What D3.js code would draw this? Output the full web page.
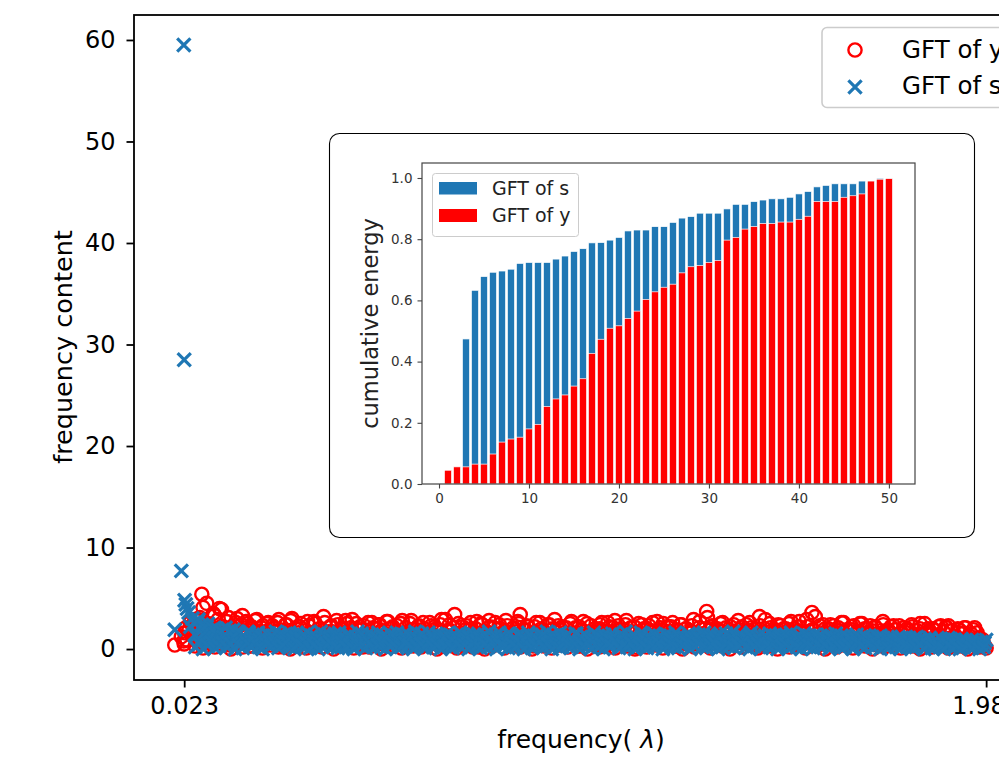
<!DOCTYPE html>
<html>
<head>
<meta charset="utf-8">
<script src="https://cdn.jsdelivr.net/npm/d3@7"></script>
<style>
  body { margin: 0; background: #fff; }
  text { font-family: "DejaVu Sans", sans-serif; }
</style>
</head>
<body>
<div id="container"></div>
<script>
// graph frequencies (eigenvalues) and the GFT magnitudes of y and s at each one
let lambdas = [
  0, 0.016, 0.022, 0.023, 0.024, 0.027, 0.03, 0.034, 0.038, 0.043,
  0.049, 0.055, 0.061, 0.066, 0.071, 0.078, 0.084, 0.09, 0.097, 0.103,
  0.109, 0.114, 0.121, 0.127, 0.134, 0.139, 0.146, 0.152, 0.158, 0.165,
  0.171, 0.178, 0.183, 0.19, 0.196, 0.203, 0.209, 0.215, 0.222, 0.228,
  0.235, 0.241, 0.247, 0.254, 0.26, 0.266, 0.273, 0.279, 0.286, 0.292,
  0.298, 0.305, 0.311, 0.318, 0.324, 0.33, 0.337, 0.343, 0.35, 0.356,
  0.363, 0.369, 0.375, 0.382, 0.388, 0.395, 0.401, 0.407, 0.414, 0.42,
  0.427, 0.433, 0.44, 0.446, 0.452, 0.459, 0.465, 0.472, 0.478, 0.484,
  0.491, 0.497, 0.504, 0.51, 0.517, 0.523, 0.529, 0.536, 0.542, 0.549,
  0.555, 0.561, 0.568, 0.574, 0.581, 0.587, 0.593, 0.6, 0.606, 0.613,
  0.619, 0.626, 0.632, 0.638, 0.645, 0.651, 0.658, 0.664, 0.67, 0.677,
  0.683, 0.69, 0.696, 0.702, 0.709, 0.715, 0.722, 0.728, 0.734, 0.741,
  0.747, 0.754, 0.76, 0.767, 0.773, 0.779, 0.786, 0.792, 0.799, 0.805,
  0.811, 0.818, 0.824, 0.831, 0.837, 0.843, 0.85, 0.856, 0.863, 0.869,
  0.875, 0.882, 0.888, 0.895, 0.901, 0.908, 0.914, 0.92, 0.927, 0.933,
  0.94, 0.946, 0.952, 0.959, 0.965, 0.972, 0.978, 0.984, 0.991, 0.997,
  1.004, 1.01, 1.016, 1.023, 1.029, 1.036, 1.042, 1.048, 1.055, 1.061,
  1.068, 1.074, 1.08, 1.087, 1.093, 1.1, 1.106, 1.113, 1.119, 1.125,
  1.132, 1.138, 1.145, 1.151, 1.157, 1.164, 1.17, 1.177, 1.183, 1.189,
  1.196, 1.202, 1.209, 1.215, 1.222, 1.228, 1.234, 1.241, 1.247, 1.254,
  1.26, 1.266, 1.273, 1.279, 1.286, 1.292, 1.298, 1.305, 1.311, 1.318,
  1.324, 1.331, 1.337, 1.343, 1.35, 1.356, 1.363, 1.369, 1.375, 1.382,
  1.388, 1.395, 1.401, 1.407, 1.414, 1.42, 1.427, 1.433, 1.44, 1.446,
  1.452, 1.459, 1.465, 1.472, 1.478, 1.484, 1.491, 1.497, 1.504, 1.51,
  1.516, 1.523, 1.529, 1.536, 1.542, 1.549, 1.555, 1.561, 1.568, 1.574,
  1.581, 1.587, 1.593, 1.6, 1.606, 1.613, 1.619, 1.625, 1.632, 1.638,
  1.645, 1.651, 1.657, 1.664, 1.67, 1.677, 1.683, 1.689, 1.696, 1.702,
  1.709, 1.715, 1.722, 1.728, 1.734, 1.741, 1.747, 1.754, 1.76, 1.766,
  1.773, 1.779, 1.786, 1.792, 1.798, 1.805, 1.811, 1.818, 1.824, 1.83,
  1.837, 1.843, 1.85, 1.856, 1.863, 1.869, 1.875, 1.882, 1.888, 1.895,
  1.901, 1.907, 1.914, 1.92, 1.927, 1.933, 1.939, 1.946, 1.952, 1.958,
  1.963, 1.968, 1.972, 1.976, 1.98,
  0.047, 0.052, 0.058, 0.063, 0.069, 0.075, 0.081, 0.087, 0.094, 0.1,
  0.106, 0.112, 0.118, 0.124, 0.131, 0.137, 0.143, 0.149, 0.155, 0.162,
  0.168, 0.174, 0.181, 0.187, 0.193, 0.2, 0.206, 0.212, 0.219, 0.225,
  0.232, 0.238, 0.244, 0.251, 0.257, 0.263, 0.27, 0.276, 0.283, 0.289,
  0.295, 0.302, 0.308, 0.315, 0.321, 0.327, 0.334, 0.34, 0.347, 0.353,
  0.359, 0.366, 0.372, 0.379, 0.385, 0.391, 0.398, 0.404, 0.411, 0.417,
  0.424, 0.43, 0.436, 0.443, 0.449, 0.456, 0.462, 0.468, 0.475, 0.481,
  0.488, 0.494, 0.5, 0.507, 0.513, 0.52, 0.526, 0.532, 0.539, 0.545,
  0.552, 0.558, 0.564, 0.571, 0.577, 0.584, 0.59, 0.596, 0.603, 0.609,
  0.616, 0.622, 0.628, 0.635, 0.641, 0.648, 0.654, 0.66, 0.667, 0.673,
  0.68, 0.686, 0.692, 0.699, 0.705, 0.712, 0.718, 0.724, 0.731, 0.737,
  0.744, 0.75, 0.756, 0.763, 0.769, 0.776, 0.782, 0.788, 0.795, 0.801,
  0.808, 0.814, 0.82, 0.827, 0.833, 0.84, 0.846, 0.852, 0.859, 0.865,
  0.872, 0.878, 0.884, 0.891, 0.897, 0.904, 0.91, 0.916, 0.923, 0.929,
  0.936, 0.942, 0.948, 0.955, 0.961, 0.968, 0.974, 0.98, 0.987, 0.993,
  1.0, 1.006, 1.012, 1.019, 1.025, 1.032, 1.038, 1.044, 1.051, 1.057,
  1.064, 1.07, 1.076, 1.083, 1.089, 1.096, 1.102, 1.108, 1.115, 1.121,
  1.128, 1.134, 1.14, 1.147, 1.153, 1.16, 1.166, 1.172, 1.179, 1.185,
  1.192, 1.198, 1.204, 1.211, 1.217, 1.224, 1.23, 1.236, 1.243, 1.249,
  1.256, 1.262, 1.268, 1.275, 1.281, 1.288, 1.294, 1.3, 1.307, 1.313,
  1.32, 1.326, 1.332, 1.339, 1.345, 1.352, 1.358, 1.364, 1.371, 1.377,
  1.384, 1.39, 1.396, 1.403, 1.409, 1.416, 1.422, 1.428, 1.435, 1.441,
  1.448, 1.454, 1.46, 1.467, 1.473, 1.48, 1.486, 1.492, 1.499, 1.505,
  1.512, 1.518, 1.524, 1.531, 1.537, 1.544, 1.55, 1.556, 1.563, 1.569,
  1.576, 1.582, 1.588, 1.595, 1.601, 1.608, 1.614, 1.62, 1.627, 1.633,
  1.64, 1.646, 1.652, 1.659, 1.665, 1.672, 1.678, 1.684, 1.691, 1.697,
  1.704, 1.71, 1.716, 1.723, 1.729, 1.736, 1.742, 1.748, 1.755, 1.761,
  1.768, 1.774, 1.78, 1.787, 1.793, 1.8, 1.806, 1.812, 1.819, 1.825,
  1.832, 1.838, 1.844, 1.851, 1.857, 1.864, 1.87, 1.876, 1.883, 1.889,
  1.896, 1.904, 1.911, 1.917, 1.924, 1.93, 1.936, 1.943, 1.949, 1.955,
  0.05, 0.06, 0.069, 0.079, 0.089, 0.098, 0.108, 0.118, 0.127, 0.137,
  0.147, 0.156, 0.166, 0.176, 0.185, 0.195, 0.205, 0.214, 0.224, 0.234,
  0.243, 0.253, 0.263, 0.272, 0.282, 0.292, 0.301, 0.311, 0.321, 0.33,
  0.34, 0.35, 0.359, 0.369, 0.379, 0.388, 0.398, 0.408, 0.417, 0.427,
  0.437, 0.446, 0.456, 0.466, 0.475, 0.485, 0.495, 0.504, 0.514, 0.524,
  0.533, 0.543, 0.553, 0.562, 0.572, 0.582, 0.591, 0.601, 0.611, 0.62,
  0.63, 0.64, 0.649, 0.659, 0.669, 0.678, 0.688, 0.698, 0.707, 0.717,
  0.727, 0.736, 0.746, 0.756, 0.765, 0.775, 0.785, 0.794, 0.804, 0.814,
  0.823, 0.833, 0.843, 0.852, 0.862, 0.872, 0.881, 0.891, 0.901, 0.91,
  0.92, 0.93, 0.939, 0.949, 0.959, 0.968, 0.978, 0.988, 0.997, 1.007,
  1.017, 1.026, 1.036, 1.046, 1.055, 1.065, 1.075, 1.084, 1.094, 1.104,
  1.113, 1.123, 1.133, 1.142, 1.152, 1.162, 1.171, 1.181, 1.191, 1.2,
  1.21, 1.22, 1.229, 1.239, 1.249, 1.258, 1.268, 1.278, 1.287, 1.297,
  1.307, 1.316, 1.326, 1.336, 1.345, 1.355, 1.365, 1.374, 1.384, 1.394,
  1.403, 1.413, 1.423, 1.432, 1.442, 1.452, 1.461, 1.471, 1.481, 1.49,
  1.5, 1.51, 1.519, 1.529, 1.539, 1.548, 1.558, 1.568, 1.577, 1.587,
  1.597, 1.606, 1.616, 1.626, 1.635, 1.645, 1.655, 1.664, 1.674, 1.684,
  1.693, 1.703, 1.713, 1.722, 1.732, 1.742, 1.751, 1.761, 1.771, 1.78,
  1.79, 1.8, 1.809, 1.819, 1.829, 1.838, 1.848, 1.858, 1.867, 1.877,
  1.887, 1.896, 1.906, 1.916, 1.925, 1.935, 1.945, 1.954, 1.964, 1.974
];

let gftY = [
  0.4, 1.2, 0.8, 0.5, 1.6, 2.1, 0.9, 1.8, 2.6, 1.3,
  2.9, 0.7, 3.1, 5.4, 1.9, 4.5, 2.4, 0.6, 3.3, 1.5,
  4.0, 3.9, 1.1, 2.7, 0.4, 2.2, 1.7, 3.0, 0.9, 3.3,
  1.4, 2.5, 0.3, 2.0, 2.8, 1.0, 1.6, 2.3, 0.5, 2.6,
  1.2, 2.1, 0.8, 2.9, 1.5, 0.2, 2.4, 1.8, 3.0, 0.7,
  1.9, 2.2, 0.6, 1.3, 2.7, 1.0, 0.3, 2.5, 1.6, 2.0,
  3.2, 0.9, 1.7, 2.3, 0.4, 2.8, 1.1, 2.0, 0.6, 2.5,
  1.4, 2.9, 0.8, 1.9, 2.2, 0.2, 1.5, 2.6, 1.0, 2.1,
  0.5, 2.4, 1.8, 0.9, 2.7, 1.3, 2.0, 0.3, 2.3, 1.6,
  2.8, 0.7, 1.2, 2.5, 1.9, 0.4, 2.2, 1.4, 2.6, 0.9,
  1.7, 2.3, 0.6, 2.0, 1.1, 2.9, 0.3, 1.8, 2.4, 1.0,
  3.4, 1.5, 0.5, 2.2, 1.9, 0.8, 2.6, 1.3, 2.0, 0.2,
  2.5, 1.0, 1.7, 2.8, 0.6, 2.1, 1.4, 2.4, 0.9, 1.8,
  2.3, 0.4, 2.0, 1.2, 2.7, 3.4, 0.7, 1.9, 2.2, 1.5,
  0.3, 2.6, 1.1, 2.0, 1.7, 0.8, 2.4, 1.4, 2.9, 0.5,
  1.9, 2.2, 1.0, 0.6, 2.5, 1.6, 2.1, 0.3, 1.8, 2.7,
  1.3, 0.9, 2.3, 1.7, 0.4, 2.0, 2.6, 1.1, 1.5, 2.2,
  0.7, 2.8, 1.4, 1.9, 0.5, 2.4, 1.0, 2.1, 1.6, 0.2,
  2.5, 1.2, 2.0, 0.8, 2.3, 1.7, 0.6, 2.7, 1.3, 1.9,
  0.9, 2.2, 1.5, 2.6, 0.3, 1.8, 2.4, 1.1, 2.0, 0.7,
  1.6, 2.9, 0.5, 2.1, 1.4, 1.0, 3.7, 1.9, 2.3, 0.8,
  2.0, 1.2, 2.6, 0.4, 1.7, 2.2, 1.3, 0.9, 2.8, 1.5,
  0.6, 2.4, 1.8, 2.1, 1.0, 0.3, 3.2, 1.6, 2.0, 1.1,
  2.5, 0.7, 1.9, 1.4, 2.3, 0.5, 2.0, 1.2, 2.7, 0.9,
  1.7, 2.2, 0.4, 1.5, 2.9, 1.0, 3.6, 1.8, 0.6, 2.3,
  1.3, 2.0, 0.8, 2.4, 1.6, 0.3, 2.1, 1.1, 2.6, 1.4,
  0.5, 1.9, 2.3, 0.9, 1.7, 2.5, 0.6, 2.0, 1.2, 1.8,
  2.2, 0.4, 1.5, 2.7, 1.0, 1.9, 0.7, 2.3, 1.4, 0.8,
  1.6, 2.1, 0.3, 1.8, 2.4, 1.1, 0.6, 2.0, 1.3, 2.5,
  0.9, 1.7, 2.0, 0.5, 1.4, 2.3, 1.0, 2.2, 2.3, 1.8,
  1.2, 0.4, 1.9, 1.5, 2.1, 0.8, 1.3, 0.6, 2.1, 1.6,
  1.1, 0.5, 0.9, 0.3, 0.1,
  2.3, 1.1, 2.8, 0.7, 4.1, 1.9, 2.5, 0.9, 3.5, 1.6,
  2.9, 1.3, 2.2, 0.6, 3.1, 2.0, 1.4, 2.6, 0.8, 2.4,
  1.8, 2.7, 1.0, 2.2, 1.5, 2.9, 0.5, 2.1, 1.7, 2.5,
  1.2, 2.3, 0.7, 2.6, 1.9, 1.0, 2.4, 1.4, 2.8, 0.6,
  2.1, 1.6, 2.5, 0.9, 1.8, 2.3, 1.2, 2.7, 0.4, 2.0,
  1.5, 2.6, 1.0, 2.2, 1.7, 0.6, 2.4, 1.3, 2.0, 2.8,
  0.8, 2.1, 1.6, 2.5, 1.1, 1.9, 2.3, 0.5, 1.7, 2.6,
  1.3, 2.0, 2.4, 0.9, 1.8, 2.7, 1.2, 2.2, 0.7, 1.6,
  2.5, 1.0, 2.1, 1.5, 2.8, 0.6, 1.9, 2.3, 1.1, 2.0,
  1.4, 2.6, 0.8, 2.2, 1.7, 2.4, 1.0, 2.9, 1.3, 1.8,
  2.1, 0.5, 2.5, 1.6, 1.2, 2.3, 0.9, 2.0, 1.5, 2.7,
  1.1, 2.4, 1.8, 0.7, 2.2, 1.4, 2.6, 1.0, 2.0, 1.6,
  2.8, 1.3, 0.6, 2.1, 1.7, 2.5, 1.2, 1.9, 2.3, 0.8,
  1.5, 2.2, 1.0, 2.6, 1.8, 0.5, 2.4, 1.3, 2.0, 1.7,
  2.3, 0.9, 1.6, 2.1, 1.2, 2.7, 1.4, 0.7, 2.2, 1.9,
  1.0, 2.5, 1.7, 1.3, 2.0, 0.6, 2.4, 1.8, 1.1, 2.6,
  1.6, 2.1, 0.8, 2.3, 1.4, 1.9, 2.8, 1.0, 1.7, 2.2,
  0.9, 1.5, 2.4, 1.2, 2.0, 0.5, 2.6, 1.8, 1.3, 2.1,
  2.5, 1.1, 1.7, 2.2, 0.7, 1.9, 1.4, 2.4, 1.0, 2.0,
  1.6, 2.3, 1.2, 0.6, 2.7, 1.5, 2.0, 3.1, 1.3, 2.2,
  0.8, 1.8, 2.5, 1.1, 2.1, 1.6, 0.5, 2.4, 1.4, 1.9,
  2.2, 1.0, 1.7, 2.6, 1.3, 2.0, 0.7, 2.3, 1.5, 2.9,
  1.2, 2.1, 0.9, 1.8, 2.4, 1.4, 2.0, 0.6, 2.5, 1.6,
  2.0, 1.3, 2.7, 1.0, 1.7, 2.2, 0.8, 1.9, 3.2, 1.5,
  1.1, 2.4, 1.6, 2.0, 0.7, 2.3, 1.4, 1.8, 2.6, 1.0,
  1.9, 1.3, 2.2, 0.6, 1.7, 2.5, 1.1, 2.0, 1.5, 2.3,
  0.9, 2.1, 1.4, 1.8, 2.4, 0.7, 1.6, 2.2, 1.2, 1.9,
  2.3, 1.0, 1.7, 2.0, 0.5, 2.2, 1.4, 1.8, 2.5, 1.1,
  1.6, 2.0, 0.8, 1.9, 1.3, 2.2, 1.0, 1.7, 2.1, 0.6,
  1.8, 1.2, 2.0, 0.9, 1.6, 2.1, 1.1, 1.5, 1.9, 0.7,
  0.3, 0.8, 0.1, 0.6, 1.1, 0.2, 0.9, 0.4, 0.7, 0.0,
  0.5, 1.0, 0.2, 0.8, 0.3, 0.6, 1.2, 0.1, 0.7, 0.4,
  0.9, 0.2, 0.5, 1.1, 0.0, 0.6, 0.3, 0.8, 0.1, 1.0,
  0.4, 0.7, 0.2, 0.9, 0.5, 0.0, 0.8, 0.3, 1.1, 0.6,
  0.1, 0.9, 0.4, 0.7, 0.2, 1.0, 0.5, 0.0, 0.8, 0.3,
  0.6, 1.2, 0.1, 0.5, 0.9, 0.3, 0.7, 0.2, 1.0, 0.4,
  0.8, 0.0, 0.6, 0.3, 1.1, 0.5, 0.1, 0.9, 0.4, 0.7,
  0.2, 1.0, 0.6, 0.0, 0.8, 0.3, 0.5, 1.1, 0.1, 0.7,
  0.4, 0.9, 0.2, 0.6, 1.0, 0.0, 0.5, 0.8, 0.3, 1.2,
  0.1, 0.7, 0.4, 0.9, 0.2, 0.6, 1.0, 0.3, 0.8, 0.0,
  0.5, 1.1, 0.2, 0.7, 0.4, 0.9, 0.1, 0.6, 1.0, 0.3,
  0.8, 0.0, 0.5, 1.2, 0.2, 0.7, 0.4, 0.9, 0.1, 0.6,
  1.0, 0.3, 0.8, 0.0, 0.5, 1.1, 0.2, 0.7, 0.4, 0.9,
  0.1, 0.6, 1.0, 0.3, 0.8, 0.0, 0.5, 1.1, 0.2, 0.7,
  0.4, 0.9, 0.1, 0.6, 1.2, 0.3, 0.8, 0.0, 0.5, 1.0,
  0.2, 0.7, 0.4, 0.9, 0.1, 0.6, 1.1, 0.3, 0.8, 0.0,
  0.5, 1.0, 0.2, 0.7, 0.4, 0.9, 0.1, 0.6, 1.0, 0.3,
  0.8, 0.0, 0.5, 1.1, 0.2, 0.7, 0.4, 0.9, 0.1, 0.6,
  1.0, 0.3, 0.8, 0.0, 0.5, 0.9, 0.2, 0.7, 0.4, 0.8,
  0.1, 0.6, 0.9, 0.3, 0.7, 0.0, 0.5, 0.8, 0.2, 0.4
];

let gftS = [
  1.9, 7.7, 59.5, 28.5, 4.8, 4.4, 4.0, 3.6, 2.2, 3.0,
  1.4, 2.7, 0.8, 2.4, 1.6, 2.2, 0.5, 1.9, 1.2, 2.0,
  0.7, 1.7, 1.3, 0.3, 1.8, 1.0, 1.5, 0.6, 1.6, 1.2,
  0.9, 1.7, 0.4, 1.4, 1.1, 1.6, 0.2, 1.3, 0.8, 1.5,
  1.0, 0.5, 1.7, 1.2, 0.3, 1.4, 0.9, 1.6, 0.6, 1.1,
  1.5, 0.8, 1.2, 0.2, 1.6, 1.0, 0.5, 1.3, 0.7, 1.7,
  0.4, 1.1, 1.5, 0.6, 1.3, 0.9, 1.6, 0.2, 1.2, 0.8,
  1.4, 0.3, 1.0, 1.7, 0.6, 1.2, 0.9, 1.5, 0.4, 1.1,
  0.7, 1.6, 0.2, 1.3, 1.0, 0.5, 1.4, 0.8, 1.6, 0.3,
  1.2, 0.9, 1.5, 0.4, 1.1, 1.7, 0.6, 1.3, 0.2, 1.0,
  1.6, 0.5, 1.2, 0.8, 1.4, 0.3, 1.0, 1.5, 0.7, 1.3,
  0.4, 1.1, 1.6, 0.6, 0.9, 1.4, 0.2, 1.2, 0.8, 1.5,
  1.0, 0.3, 1.3, 1.7, 0.5, 1.1, 0.9, 1.6, 0.4, 1.2,
  0.7, 1.5, 0.2, 1.0, 1.4, 0.6, 1.3, 0.8, 1.6, 0.3,
  1.1, 0.9, 1.5, 0.4, 1.2, 1.7, 0.5, 1.0, 1.3, 0.7,
  1.6, 0.2, 1.1, 1.4, 0.6, 0.9, 1.5, 0.3, 1.2, 0.8,
  1.3, 0.5, 1.0, 1.6, 0.4, 1.2, 0.7, 1.4, 0.9, 0.2,
  1.5, 1.1, 0.6, 1.3, 0.8, 1.7, 0.3, 1.0, 1.4, 0.5,
  0.9, 1.6, 0.2, 1.2, 1.0, 0.4, 1.5, 0.7, 1.3, 1.1,
  0.6, 1.4, 0.9, 0.3, 1.6, 1.0, 0.5, 1.2, 0.8, 1.5,
  1.1, 0.4, 1.3, 0.7, 1.0, 1.6, 0.2, 1.4, 0.9, 1.2,
  0.5, 1.5, 0.8, 1.1, 0.3, 1.3, 1.7, 0.6, 1.0, 1.4,
  0.9, 0.2, 1.2, 1.6, 0.7, 1.0, 1.4, 0.4, 1.3, 0.8,
  1.5, 0.6, 1.1, 0.3, 1.4, 0.9, 1.2, 0.5, 1.6, 1.0,
  0.4, 1.3, 0.8, 1.5, 0.2, 1.1, 0.7, 1.4, 1.0, 0.6,
  1.2, 0.9, 1.4, 0.3, 1.0, 1.5, 0.5, 1.2, 0.8, 1.3,
  0.6, 1.1, 0.2, 1.4, 0.9, 0.4, 1.3, 1.0, 0.7, 1.2,
  1.0, 0.5, 1.3, 0.8, 0.3, 1.1, 1.2, 0.6, 0.9, 1.2,
  0.4, 1.0, 0.7, 1.1, 0.2, 0.9, 1.2, 0.5, 0.8, 1.0,
  0.7, 1.1, 0.3, 0.9, 0.6, 1.0, 0.4, 0.8, 1.1, 0.5,
  0.9, 0.3, 0.7, 1.0, 0.5, 0.8, 0.2, 0.9, 0.6, 0.8,
  0.4, 0.7, 0.3, 0.6, 0.9,
  2.6, 1.3, 2.9, 0.8, 2.3, 1.7, 2.5, 1.1, 2.0, 1.5,
  0.9, 1.8, 1.2, 2.1, 0.6, 1.5, 1.9, 1.0, 1.7, 0.5,
  1.3, 0.8, 1.6, 1.1, 0.4, 1.4, 0.9, 1.2, 0.6, 1.5,
  0.7, 1.3, 1.0, 0.5, 1.5, 0.8, 1.1, 0.3, 1.4, 0.9,
  1.2, 0.6, 1.0, 1.4, 0.4, 0.9, 1.3, 0.7, 1.1, 0.5,
  0.8, 1.4, 0.5, 1.1, 0.9, 1.5, 0.3, 1.2, 0.7, 1.0,
  1.3, 0.6, 0.9, 1.2, 0.4, 1.5, 0.8, 1.0, 0.5, 1.4,
  0.9, 1.1, 0.4, 1.3, 0.7, 1.0, 1.5, 0.6, 1.2, 0.8,
  0.5, 1.4, 1.0, 0.7, 1.2, 0.3, 1.1, 0.9, 1.5, 0.6,
  1.0, 0.8, 1.3, 0.5, 1.4, 0.9, 0.6, 1.2, 0.4, 1.1,
  0.7, 1.3, 0.9, 1.5, 0.5, 1.0, 1.2, 0.3, 1.4, 0.8,
  1.1, 0.6, 1.4, 0.9, 1.0, 0.4, 1.3, 0.7, 1.2, 0.5,
  0.9, 1.5, 0.6, 1.1, 0.8, 1.3, 0.4, 1.0, 0.7, 1.4,
  1.2, 0.5, 1.0, 0.8, 1.4, 0.6, 1.1, 0.3, 1.3, 0.9,
  0.6, 1.2, 0.9, 1.3, 0.5, 1.0, 0.7, 1.5, 0.8, 1.1,
  1.4, 0.7, 0.4, 1.1, 0.9, 1.3, 0.6, 1.0, 1.2, 0.5,
  0.8, 1.2, 1.0, 0.5, 1.4, 0.7, 1.1, 0.9, 0.4, 1.3,
  1.0, 0.6, 1.3, 0.9, 0.3, 1.2, 0.8, 1.4, 0.6, 1.1,
  0.7, 1.4, 0.5, 1.0, 1.2, 0.8, 1.3, 0.4, 1.1, 0.9,
  1.3, 0.9, 1.1, 0.6, 1.0, 1.4, 0.5, 0.8, 1.2, 0.7,
  1.0, 1.3, 0.4, 0.9, 1.5, 0.7, 1.1, 0.6, 1.2, 0.8,
  0.6, 1.1, 1.0, 1.4, 0.5, 0.9, 1.2, 0.8, 0.3, 1.3,
  1.1, 0.7, 1.3, 0.5, 1.0, 1.2, 0.6, 1.4, 0.9, 0.8,
  0.5, 1.2, 0.9, 1.1, 0.7, 1.3, 0.4, 1.0, 0.8, 1.2,
  1.3, 0.6, 1.0, 0.8, 1.2, 0.5, 1.1, 0.7, 1.3, 0.9,
  0.7, 1.1, 0.5, 1.2, 0.9, 0.6, 1.0, 1.3, 0.4, 1.1,
  1.0, 0.8, 1.2, 0.5, 1.1, 0.9, 0.6, 1.2, 0.8, 0.4,
  0.9, 1.1, 0.6, 1.0, 0.8, 0.4, 1.1, 0.7, 1.0, 0.6,
  0.8, 0.5, 1.0, 0.7, 0.9, 0.4, 1.0, 0.6, 0.8, 0.5,
  0.7, 0.9, 0.4, 0.8, 0.6, 0.9, 0.5, 0.7, 0.3, 0.6,
  0.2, 0.5, 0.0, 0.4, 0.7, 0.1, 0.3, 0.6, 0.2, 0.5,
  0.0, 0.4, 0.1, 0.6, 0.3, 0.7, 0.2, 0.0, 0.5, 0.3,
  0.6, 0.1, 0.4, 0.7, 0.2, 0.0, 0.5, 0.3, 0.6, 0.1,
  0.4, 0.0, 0.2, 0.5, 0.7, 0.3, 0.1, 0.6, 0.2, 0.4,
  0.0, 0.5, 0.3, 0.1, 0.6, 0.2, 0.4, 0.7, 0.0, 0.3,
  0.5, 0.1, 0.2, 0.6, 0.4, 0.0, 0.3, 0.5, 0.1, 0.7,
  0.2, 0.4, 0.0, 0.3, 0.6, 0.1, 0.5, 0.2, 0.4, 0.0,
  0.6, 0.3, 0.1, 0.5, 0.2, 0.7, 0.0, 0.4, 0.3, 0.1,
  0.5, 0.2, 0.6, 0.0, 0.4, 0.1, 0.3, 0.7, 0.2, 0.5,
  0.0, 0.3, 0.1, 0.6, 0.4, 0.2, 0.5, 0.0, 0.3, 0.6,
  0.1, 0.4, 0.2, 0.0, 0.5, 0.3, 0.7, 0.1, 0.4, 0.2,
  0.6, 0.0, 0.3, 0.5, 0.1, 0.4, 0.2, 0.6, 0.0, 0.3,
  0.5, 0.2, 0.1, 0.4, 0.7, 0.0, 0.3, 0.5, 0.2, 0.1,
  0.4, 0.6, 0.0, 0.2, 0.5, 0.3, 0.1, 0.4, 0.6, 0.2,
  0.0, 0.3, 0.5, 0.1, 0.4, 0.2, 0.6, 0.0, 0.3, 0.5,
  0.1, 0.4, 0.2, 0.0, 0.6, 0.3, 0.1, 0.5, 0.2, 0.4,
  0.0, 0.3, 0.5, 0.1, 0.2, 0.4, 0.0, 0.6, 0.3, 0.1,
  0.5, 0.2, 0.4, 0.0, 0.3, 0.1, 0.5, 0.2, 0.0, 0.4,
  0.3, 0.1, 0.2, 0.5, 0.0, 0.4, 0.1, 0.3, 0.2, 0.0,
  0.4, 0.1, 0.3, 0.0, 0.2, 0.4, 0.1, 0.3, 0.0, 0.2
];

// inset: cumulative energy over the first 50 components
let energyS = [
  0, 0, 0.474, 0.633, 0.678, 0.692, 0.696, 0.702, 0.721, 0.724,
  0.724, 0.724, 0.735, 0.745, 0.760, 0.769, 0.788, 0.789, 0.797, 0.806,
  0.827, 0.830, 0.830, 0.841, 0.841, 0.855, 0.869, 0.874, 0.885, 0.885,
  0.885, 0.899, 0.914, 0.914, 0.923, 0.928, 0.932, 0.932, 0.937, 0.948,
  0.956, 0.971, 0.976, 0.981, 0.981, 0.981, 0.990, 0.990, 0.999, 0.998
];
let energyY = [
  0.045, 0.056, 0.056, 0.065, 0.065, 0.098, 0.137, 0.147, 0.153, 0.180,
  0.195, 0.253, 0.278, 0.291, 0.320, 0.344, 0.427, 0.473, 0.509, 0.517,
  0.541, 0.565, 0.603, 0.628, 0.643, 0.653, 0.690, 0.710, 0.714, 0.724,
  0.730, 0.797, 0.806, 0.833, 0.841, 0.851, 0.851, 0.856, 0.856, 0.865,
  0.875, 0.923, 0.923, 0.923, 0.937, 0.942, 0.948, 0.990, 0.996, 0.998
];

let mainXTicks = [0.023, 1.98];
let mainYTicks = [0, 10, 20, 30, 40, 50, 60];
let insetXTicks = [0, 10, 20, 30, 40, 50];
let insetYTicks = [0, 0.2, 0.4, 0.6, 0.8, 1.0];

let blue = "#1f77b4";
let red = "#ff0000";

let viz = d3.select("#container")
  .append("svg")
    .attr("width", 999)
    .attr("height", 757)
    .style("display", "block")
  ;

// ---------- main axes ----------
let x = d3.scaleLinear().domain([-0.0995, 2.0895]).range([134, 1031]);
let y = d3.scaleLinear().domain([-3.05, 62.46]).range([680, 15]);

let points = lambdas.map(function(l, i){
  return {lam: l, y: gftY[i], s: gftS[i]};
});

viz.append("rect")
    .attr("x", 134).attr("y", 15)
    .attr("width", 1031 - 134).attr("height", 680 - 15)
    .attr("fill", "white")
    .attr("stroke", "black")
    .attr("stroke-width", 1.8)
  ;

// the end ticks carry 3 decimals (the right one runs off the picture)
let xAxis = viz.append("g")
    .attr("transform", "translate(0,680)")
    .call(d3.axisBottom(x).tickValues(mainXTicks).tickSize(7.5).tickPadding(9).tickFormat(d3.format(".3f")))
  ;
let yAxis = viz.append("g")
    .attr("transform", "translate(134,0)")
    .call(d3.axisLeft(y).tickValues(mainYTicks).tickSize(7.5).tickPadding(11))
  ;
[xAxis, yAxis].forEach(function(a){
  a.select(".domain").remove();
  a.selectAll("line").attr("stroke", "black").attr("stroke-width", 1.8);
  a.selectAll("text").attr("fill", "black").style("font-size", "24px").style("font-family", "DejaVu Sans");
});

let xLabel = viz.append("text")
    .attr("x", 581).attr("y", 748)
    .attr("text-anchor", "middle")
    .style("font-size", "25px")
  ;
xLabel.append("tspan").text("frequency( ");
xLabel.append("tspan").style("font-style", "italic").text("λ");
xLabel.append("tspan").text(")");

viz.append("text")
    .attr("transform", "translate(72,347) rotate(-90)")
    .attr("text-anchor", "middle")
    .style("font-size", "25.5px")
    .text("frequency content")
  ;

let xPath = "M-6.6,-6.6L6.6,6.6M-6.6,6.6L6.6,-6.6";

// red first, blue drawn over it
viz.append("g").selectAll("circle").data(points).enter()
  .append("circle")
    .attr("cx", d => x(d.lam))
    .attr("cy", d => y(d.y))
    .attr("r", 6.6)
    .attr("fill", "none")
    .attr("stroke", red)
    .attr("stroke-width", 2.4)
  ;

viz.append("g").selectAll("path").data(points).enter()
  .append("path")
    .attr("d", xPath)
    .attr("transform", d => "translate(" + x(d.lam) + "," + y(d.s) + ")")
    .attr("stroke", blue)
    .attr("stroke-width", 3.2)
  ;

// main legend (runs off the right edge like the original)
let legend = viz.append("g");
legend.append("rect")
    .attr("x", 822).attr("y", 27.5)
    .attr("width", 220).attr("height", 80)
    .attr("rx", 5)
    .attr("fill", "white").attr("fill-opacity", 0.8)
    .attr("stroke", "#cccccc").attr("stroke-width", 1.6)
  ;
legend.append("circle")
    .attr("cx", 855).attr("cy", 50).attr("r", 6.6)
    .attr("fill", "none").attr("stroke", red).attr("stroke-width", 2.4)
  ;
legend.append("path")
    .attr("d", xPath).attr("transform", "translate(855,87)")
    .attr("stroke", blue).attr("stroke-width", 3.2)
  ;
legend.append("text").attr("x", 902).attr("y", 58).style("font-size", "24.5px").text("GFT of y");
legend.append("text").attr("x", 902).attr("y", 94).style("font-size", "24.5px").text("GFT of s");

// ---------- inset ----------
let inset = viz.append("g");
inset.append("rect")
    .attr("x", 329.5).attr("y", 133.5)
    .attr("width", 645).attr("height", 404)
    .attr("rx", 10)
    .attr("fill", "white")
    .attr("stroke", "black")
    .attr("stroke-width", 1.1)
  ;

let xi = d3.scaleLinear().domain([-1.89, 52.9]).range([422, 915]);
let yi = d3.scaleLinear().domain([0, 1.049]).range([484, 163]);
let barW = xi(0.8) - xi(0);

inset.append("g").selectAll("rect").data(energyS).enter()
  .append("rect")
    .attr("x", (d, i) => xi(i + 1 - 0.4))
    .attr("y", d => yi(d))
    .attr("width", barW)
    .attr("height", d => yi(0) - yi(d))
    .attr("fill", blue)
    .attr("stroke", "white").attr("stroke-width", 0.7)
  ;
inset.append("g").selectAll("rect").data(energyY).enter()
  .append("rect")
    .attr("x", (d, i) => xi(i + 1 - 0.4))
    .attr("y", d => yi(d))
    .attr("width", barW)
    .attr("height", d => yi(0) - yi(d))
    .attr("fill", red)
    .attr("stroke", "white").attr("stroke-width", 0.7)
  ;

inset.append("rect")
    .attr("x", 422).attr("y", 163)
    .attr("width", 915 - 422).attr("height", 484 - 163)
    .attr("fill", "none")
    .attr("stroke", "#444").attr("stroke-width", 1.2)
  ;

let xiAxis = inset.append("g")
    .attr("transform", "translate(0,484)")
    .call(d3.axisBottom(xi).tickValues(insetXTicks).tickSize(4.5).tickPadding(5))
  ;
let yiAxis = inset.append("g")
    .attr("transform", "translate(422,0)")
    .call(d3.axisLeft(yi).tickValues(insetYTicks).tickSize(4.5).tickPadding(5).tickFormat(d3.format(".1f")))
  ;
[xiAxis, yiAxis].forEach(function(a){
  a.select(".domain").remove();
  a.selectAll("line").attr("stroke", "#444").attr("stroke-width", 1.1);
  a.selectAll("text").attr("fill", "#333").style("font-size", "13.5px").style("font-family", "DejaVu Sans");
});

inset.append("text")
    .attr("transform", "translate(378,323.5) rotate(-90)")
    .attr("text-anchor", "middle")
    .attr("fill", "#222")
    .style("font-size", "22.5px")
    .text("cumulative energy")
  ;

let il = inset.append("g");
il.append("rect")
    .attr("x", 432.5).attr("y", 173.5)
    .attr("width", 146).attr("height", 63)
    .attr("rx", 3)
    .attr("fill", "white").attr("fill-opacity", 0.8)
    .attr("stroke", "#cccccc").attr("stroke-width", 1)
  ;
il.append("rect").attr("x", 439).attr("y", 182).attr("width", 38).attr("height", 12.5).attr("fill", blue);
il.append("rect").attr("x", 439).attr("y", 209).attr("width", 38).attr("height", 13).attr("fill", red);
il.append("text").attr("x", 492).attr("y", 195).attr("fill", "#222").style("font-size", "19px").text("GFT of s");
il.append("text").attr("x", 492).attr("y", 222).attr("fill", "#222").style("font-size", "19px").text("GFT of y");
</script>
</body>
</html>
